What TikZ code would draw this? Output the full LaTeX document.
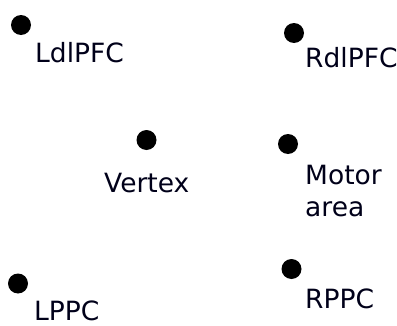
\documentclass[tikz,border=0pt]{standalone}
\usepackage{fontspec}
\setmainfont{DejaVu Sans}
\begin{document}
\begin{tikzpicture}[x=1pt,y=1pt,
  site/.style={circle,fill=black,minimum size=20pt,inner sep=0pt},
  lbl/.style={anchor=base west,inner sep=0pt,align=left,text=black!90!blue,
              font=\fontsize{26.5}{32}\selectfont}]
  \useasboundingbox (0,0) rectangle (397,325);
  % electrode sites
  \node[site] (ldlpfc) at (21,300) {};
  \node[site] (rdlpfc) at (294,292) {};
  \node[site] (vertex) at (146.5,185) {};
  \node[site] (motor)  at (288,181) {};
  \node[site] (lppc)   at (18,41.5) {};
  \node[site] (rppc)   at (291.5,56) {};
  % site names (a two-line node sits on the baseline of its last line)
  \node[lbl] (ldlpfc-t) at (35,262) {LdlPFC};
  \node[lbl] (rdlpfc-t) at (305,258) {RdlPFC};
  \node[lbl] (vertex-t) at (104,133) {Vertex};
  \node[lbl] (motor-t)  at (305,109) {Motor\\area};
  \node[lbl] (lppc-t)   at (34,5) {LPPC};
  \node[lbl] (rppc-t)   at (305,17) {RPPC};
\end{tikzpicture}
\end{document}
